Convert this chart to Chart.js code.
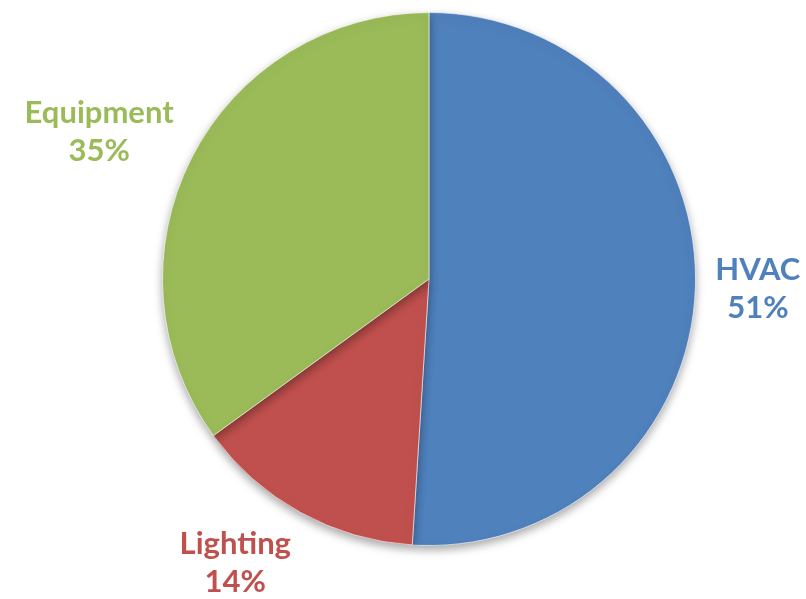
<!DOCTYPE html>
<html>
<head>
<meta charset="utf-8">
<script src="https://cdn.jsdelivr.net/npm/chart.js@4.4.0/dist/chart.umd.min.js"></script>
<style>
    html, body { margin: 0; padding: 0; background: #ffffff; }
    #wrap { width: 806px; height: 599px; }
</style>
</head>
<body>
<div id="wrap"><canvas id="pieChart" width="806" height="599"></canvas></div>
<script>
// Chart data
const categories = ['HVAC', 'Lighting', 'Equipment'];
const shares = [51, 14, 35];
const sliceColors = ['#4F81BD', '#C0504D', '#9BBB59'];

// Soft shadow under the pie
const shadowPlugin = {
    id: 'pieShadow',
    beforeDatasetsDraw(chart) {
        const ctx = chart.ctx;
        ctx.save();
        ctx.shadowColor = 'rgba(0, 0, 0, 0.35)';
        ctx.shadowBlur = 10;
        ctx.shadowOffsetY = 4;
    },
    afterDatasetsDraw(chart) {
        chart.ctx.restore();
    }
};

// Category name + percent outside each slice
const outsideLabels = {
    id: 'outsideLabels',
    afterDraw(chart) {
        const ctx = chart.ctx;
        const meta = chart.getDatasetMeta(0);
        const total = shares.reduce((a, b) => a + b, 0);
        const lineH = 38;
        const gap = 20;

        ctx.save();
        ctx.font = 'bold 31px Lato';
        ctx.textAlign = 'center';
        ctx.textBaseline = 'middle';

        meta.data.forEach((arc, i) => {
            const p = arc.getProps(['x', 'y', 'startAngle', 'endAngle', 'outerRadius'], true);
            const mid = (p.startAngle + p.endAngle) / 2;
            const cos = Math.cos(mid);
            const sin = Math.sin(mid);
            const ax = p.x + (p.outerRadius + gap) * cos;
            const ay = p.y + (p.outerRadius + gap) * sin;

            const pct = Math.round(shares[i] / total * 100) + '%';
            const w = Math.max(ctx.measureText(categories[i]).width, ctx.measureText(pct).width);

            const sx = Math.abs(cos) < 0.2 ? 0 : Math.sign(cos);
            const cx = ax + sx * w / 2;
            const cy = ay + sin * lineH;

            ctx.fillStyle = sliceColors[i];
            ctx.fillText(categories[i], cx, cy - lineH / 2);
            ctx.fillText(pct, cx, cy + lineH / 2);
        });
        ctx.restore();
    }
};

new Chart(document.getElementById('pieChart').getContext('2d'), {
    type: 'pie',
    data: {
        labels: categories,
        datasets: [{
            data: shares,
            backgroundColor: sliceColors,
            borderColor: 'rgba(255, 255, 255, 0.6)',
            borderWidth: 1
        }]
    },
    options: {
        responsive: false,
        animation: false,
        layout: {
            padding: { top: 12, bottom: 53, left: 162, right: 110 }
        },
        plugins: {
            legend: { display: false },
            tooltip: { enabled: false }
        }
    },
    plugins: [shadowPlugin, outsideLabels]
});
</script>
</body>
</html>
